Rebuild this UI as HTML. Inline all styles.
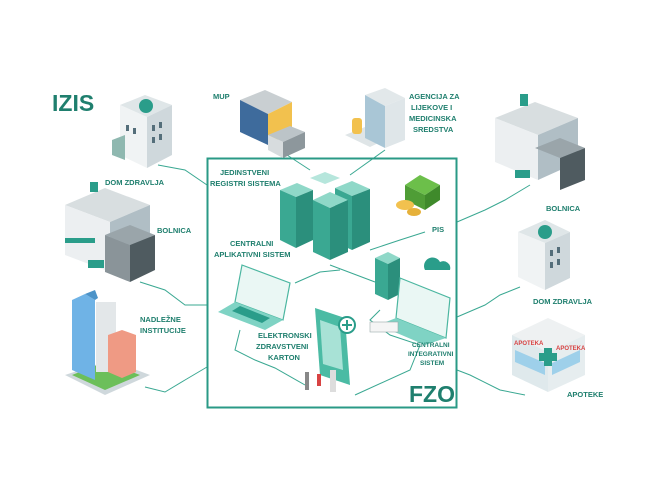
<!DOCTYPE html>
<html><head><style>
html,body{margin:0;padding:0;background:#fff;}
svg{display:block}
text{font-family:"Liberation Sans",sans-serif;font-weight:bold;fill:#1f7f6e;}
.l{font-size:7.5px;}
</style></head><body>
<svg width="658" height="494" viewBox="0 0 658 494" xmlns="http://www.w3.org/2000/svg">
<rect width="658" height="494" fill="#fff"/>
<!-- connectors -->
<g fill="none" stroke="#3aa892" stroke-width="1">
<path d="M158 165 L185 170 L207 185"/>
<path d="M140 282 L165 290 L185 305 L207 305"/>
<path d="M145 387 L165 392 L185 380 L207 367"/>
<path d="M287 155 L310 170"/>
<path d="M385 150 L350 175"/>
<path d="M530 185 L505 200 L485 210 L457 222"/>
<path d="M520 287 L500 295 L485 305 L457 317"/>
<path d="M525 395 L500 390 L470 375 L457 370"/>
<path d="M295 283 L320 272 L340 270"/>
<path d="M330 265 L375 282"/>
<path d="M370 250 L400 240 L425 232"/>
<path d="M240 330 L235 350 L255 360 L275 368 L305 385"/>
<path d="M380 310 L370 320 L390 335 L420 345 L410 370 L355 395"/>
</g>
<!-- FZO box -->
<rect x="207.5" y="158.5" width="249" height="249" fill="none" stroke="#2a9a86" stroke-width="2"/>
<text x="52" y="111" style="font-size:23px" fill="#1f8a75">IZIS</text>
<text x="409" y="402" style="font-size:23px">FZO</text>

<!-- Dom zdravlja left -->
<g>
<polygon points="120,105 145,95 172,105 147,117" fill="#dfe6e8"/>
<polygon points="120,105 147,117 147,168 120,155" fill="#f0f3f4"/>
<polygon points="147,117 172,105 172,155 147,168" fill="#cfd8dc"/>
<circle cx="146" cy="106" r="7" fill="#2a9d8a"/>
<g fill="#546e7a"><rect x="126" y="125" width="3" height="6"/><rect x="133" y="128" width="3" height="6"/><rect x="152" y="125" width="3" height="6"/><rect x="159" y="122" width="3" height="6"/><rect x="152" y="137" width="3" height="6"/><rect x="159" y="134" width="3" height="6"/></g>
<polygon points="112,140 125,135 125,160 112,155" fill="#8fb8b0"/>
</g>
<text class="l" x="105" y="185">DOM ZDRAVLJA</text>

<!-- Bolnica left -->
<g>
<polygon points="65,205 105,188 150,205 110,222" fill="#d8dee0"/>
<polygon points="65,205 110,222 110,272 65,255" fill="#eceff1"/>
<polygon points="110,222 150,205 150,255 110,272" fill="#b0bec5"/>
<polygon points="105,235 130,225 155,235 130,245" fill="#9aa5aa"/>
<polygon points="105,235 130,245 130,282 105,272" fill="#8a9499"/>
<polygon points="130,245 155,235 155,270 130,282" fill="#4f5b60"/>
<rect x="90" y="182" width="8" height="10" fill="#2a9d8a"/>
<rect x="65" y="238" width="30" height="5" fill="#2a9d8a"/>
<rect x="88" y="260" width="16" height="8" fill="#2a9d8a"/>
</g>
<text class="l" x="157" y="233">BOLNICA</text>

<!-- Nadlezne -->
<g>
<polygon points="65,375 110,360 150,375 105,395" fill="#cfd8dc"/>
<polygon points="72,375 105,390 140,375 105,362" fill="#6cbf5a"/>
<polygon points="72,300 85,294 95,300 95,380 72,370" fill="#6fb3e6"/>
<polygon points="95,300 85,294 95,290 98,298" fill="#4c93c8"/>
<rect x="96" y="302" width="20" height="70" fill="#e3e7e9"/>
<polygon points="108,335 122,330 136,335 136,372 122,378 108,372" fill="#ef9a84"/>
</g>
<text class="l" x="140" y="322">NADLEŽNE</text>
<text class="l" x="140" y="333">INSTITUCIJE</text>

<!-- MUP -->
<g>
<polygon points="240,100 265,90 292,102 268,114" fill="#c9cfd2"/>
<polygon points="240,100 268,114 268,145 240,132" fill="#3e6b9c"/>
<polygon points="268,114 292,102 292,132 268,145" fill="#f2c14e"/>
<polygon points="268,135 290,126 305,132 283,142" fill="#bcc4c8"/>
<polygon points="268,135 283,142 283,158 268,150" fill="#d7dcde"/>
<polygon points="283,142 305,132 305,148 283,158" fill="#8d979c"/>
</g>
<text class="l" x="213" y="99">MUP</text>

<!-- Agencija -->
<g>
<polygon points="345,135 370,125 395,135 370,147" fill="#dfe5e7"/>
<polygon points="365,95 385,88 405,98 385,106" fill="#e2e8ea"/>
<polygon points="365,95 385,106 385,148 365,138" fill="#a9c6d6"/>
<polygon points="385,106 405,98 405,140 385,148" fill="#dfe6e9"/>
<rect x="352" y="118" width="10" height="16" rx="3" fill="#f2c14e"/>
</g>
<text class="l" x="409" y="99">AGENCIJA ZA</text>
<text class="l" x="411" y="110">LIJEKOVE I</text>
<text class="l" x="409" y="121">MEDICINSKA</text>
<text class="l" x="413" y="132">SREDSTVA</text>

<!-- Bolnica right -->
<g>
<polygon points="495,118 535,102 578,118 538,135" fill="#d8dee0"/>
<polygon points="495,118 538,135 538,180 495,162" fill="#eceff1"/>
<polygon points="538,135 578,118 578,162 538,180" fill="#b0bec5"/>
<polygon points="535,148 560,138 585,148 560,158" fill="#9aa5aa"/>
<polygon points="560,158 585,148 585,180 560,190" fill="#4f5b60"/>
<rect x="520" y="94" width="8" height="12" fill="#2a9d8a"/>
<rect x="515" y="170" width="15" height="8" fill="#2a9d8a"/>
</g>
<text class="l" x="546" y="211">BOLNICA</text>

<!-- Dom zdravlja right -->
<g>
<polygon points="518,232 545,220 570,232 545,243" fill="#dfe6e8"/>
<polygon points="518,232 545,243 545,290 518,277" fill="#f0f3f4"/>
<polygon points="545,243 570,232 570,278 545,290" fill="#cfd8dc"/>
<circle cx="545" cy="232" r="7" fill="#2a9d8a"/>
<g fill="#546e7a"><rect x="550" y="250" width="3" height="6"/><rect x="557" y="247" width="3" height="6"/><rect x="550" y="262" width="3" height="6"/><rect x="557" y="259" width="3" height="6"/></g>
</g>
<text class="l" x="533" y="304">DOM ZDRAVLJA</text>

<!-- Apoteke -->
<g>
<polygon points="512,335 548,318 585,335 548,352" fill="#eef1f2"/>
<polygon points="512,335 548,352 548,392 512,375" fill="#dfe9ec"/>
<polygon points="548,352 585,335 585,375 548,392" fill="#e6edef"/>
<polygon points="515,350 545,363 545,375 515,362" fill="#9ed0ea"/>
<polygon points="552,363 580,350 580,362 552,375" fill="#9ed0ea"/>
<rect x="544" y="348" width="8" height="18" fill="#2a9d8a"/>
<rect x="539" y="353" width="18" height="8" fill="#2a9d8a"/>
<text x="514" y="345" style="font-size:6px;fill:#d84343">APOTEKA</text>
<text x="556" y="350" style="font-size:6px;fill:#d84343">APOTEKA</text>
</g>
<text class="l" x="567" y="397">APOTEKE</text>

<!-- FZO contents -->
<text class="l" x="220" y="175">JEDINSTVENI</text>
<text class="l" x="210" y="186">REGISTRI SISTEMA</text>
<!-- servers -->
<g>
<polygon points="280,190 297,183 313,190 296,197" fill="#8fd8c8"/>
<polygon points="280,190 296,197 296,248 280,240" fill="#3aa892"/>
<polygon points="296,197 313,190 313,240 296,248" fill="#2b8f7c"/>
<polygon points="335,188 352,181 370,189 352,196" fill="#8fd8c8"/>
<polygon points="335,188 352,196 352,250 335,242" fill="#3aa892"/>
<polygon points="352,196 370,189 370,242 352,250" fill="#2b8f7c"/>
<polygon points="310,178 325,172 340,178 325,184" fill="#b6e6dc"/>
<polygon points="313,200 330,192 348,200 330,208" fill="#8fd8c8"/>
<polygon points="313,200 330,208 330,260 313,252" fill="#3aa892"/>
<polygon points="330,208 348,200 348,252 330,260" fill="#2b8f7c"/>
<polygon points="375,258 388,252 400,258 388,264" fill="#8fd8c8"/>
<polygon points="375,258 388,264 388,300 375,294" fill="#3aa892"/>
<polygon points="388,264 400,258 400,294 388,300" fill="#2b8f7c"/>
</g>
<!-- money -->
<g>
<polygon points="405,185 420,175 440,185 425,195" fill="#6cbf4a"/>
<polygon points="405,185 425,195 425,210 405,200" fill="#4f9d36"/>
<polygon points="425,195 440,185 440,200 425,210" fill="#3f8a2b"/>
<ellipse cx="405" cy="205" rx="9" ry="5" fill="#f2c14e"/>
<ellipse cx="414" cy="212" rx="7" ry="4" fill="#e6b13a"/>
</g>
<text class="l" x="432" y="232">PIS</text>
<text class="l" x="230" y="246">CENTRALNI</text>
<text class="l" x="214" y="257">APLIKATIVNI SISTEM</text>
<!-- left laptop -->
<g>
<polygon points="242,265 290,283 283,320 235,302" fill="#eaf7f4" stroke="#4bb6a0" stroke-width="1.2"/>
<polygon points="235,302 283,320 265,330 218,312" fill="#7fd3c4"/>
<polygon points="240,306 270,318 262,323 232,311" fill="#2a9d8a"/>
</g>
<!-- right laptop -->
<g>
<polygon points="400,278 450,298 446,338 396,318" fill="#eaf7f4" stroke="#4bb6a0" stroke-width="1.2"/>
<polygon points="396,318 446,338 425,345 378,325" fill="#7fd3c4"/>
<path d="M425 270 a8 8 0 0 1 15 -8 a7 7 0 0 1 10 8 z" fill="#2a9d8a"/>
<rect x="370" y="322" width="28" height="10" fill="#f5f5f5" stroke="#9aa" stroke-width="0.6"/>
</g>
<!-- phone -->
<g>
<polygon points="315,308 345,318 350,385 320,375" fill="#4bbba4"/>
<polygon points="320,320 340,327 343,370 323,364" fill="#a8e2d6"/>
<circle cx="347" cy="325" r="8" fill="#fff" stroke="#2a9d8a" stroke-width="2"/>
<path d="M347 320 v10 M342 325 h10" stroke="#2a9d8a" stroke-width="2"/>
<rect x="305" y="372" width="4" height="18" fill="#888"/>
<rect x="317" y="374" width="4" height="12" fill="#d84343"/>
<rect x="330" y="370" width="6" height="22" fill="#ddd"/>
</g>
<text class="l" x="258" y="338">ELEKTRONSKI</text>
<text class="l" x="256" y="349">ZDRAVSTVENI</text>
<text class="l" x="268" y="360">KARTON</text>
<text style="font-size:6.5px" x="412" y="347">CENTRALNI</text>
<text style="font-size:6.5px" x="408" y="356">INTEGRATIVNI</text>
<text style="font-size:6.5px" x="420" y="365">SISTEM</text>
</svg>
</body></html>
